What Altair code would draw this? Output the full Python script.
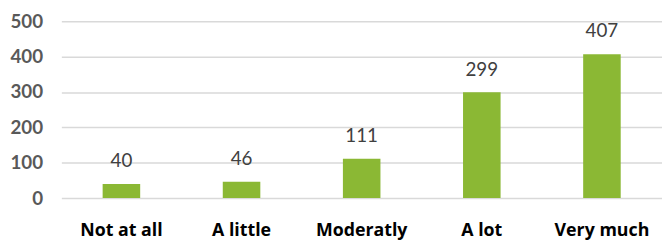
import altair as alt
import pandas as pd

categories = ["Not at all", "A little", "Moderatly", "A lot", "Very much"]
values = [40, 46, 111, 299, 407]
y_ticks = [0, 100, 200, 300, 400, 500]

df = pd.DataFrame({"cat": categories, "val": values})

FONT = "Lato"
XFONT = "Open Sans"

base = alt.Chart(df).encode(
    x=alt.X("cat:N", sort=categories, title=None,
            scale=alt.Scale(paddingInner=0, paddingOuter=0),
            axis=alt.Axis(labelAngle=0, labelFont=XFONT, labelFontSize=18,
                          labelFontWeight="bold", labelColor="#000000",
                          labelPadding=24, ticks=False, domain=False, grid=False)),
    y=alt.Y("val:Q", title=None,
            scale=alt.Scale(domain=[0, 500], nice=False),
            axis=alt.Axis(values=y_ticks, labelFont=FONT, labelFontSize=19,
                          labelFontWeight="bold", labelColor="#595959",
                          labelPadding=19, ticks=False, domain=False,
                          grid=True, gridColor="#d9d9d9", gridWidth=1.5)),
)

bars = base.mark_bar(size=38, color="#8BB834")
labels = base.mark_text(baseline="alphabetic", dy=-17, font=FONT, fontSize=19,
                        color="#404040").encode(text="val:Q")

chart = (bars + labels).properties(
    width=608, height=179,
    autosize=alt.AutoSizeParams(type="none"),
    padding={"left": 54, "top": 12, "right": 0, "bottom": 44},
).configure_view(stroke=None)

chart.save("out.html", embed_options={"renderer": "svg", "actions": False})
